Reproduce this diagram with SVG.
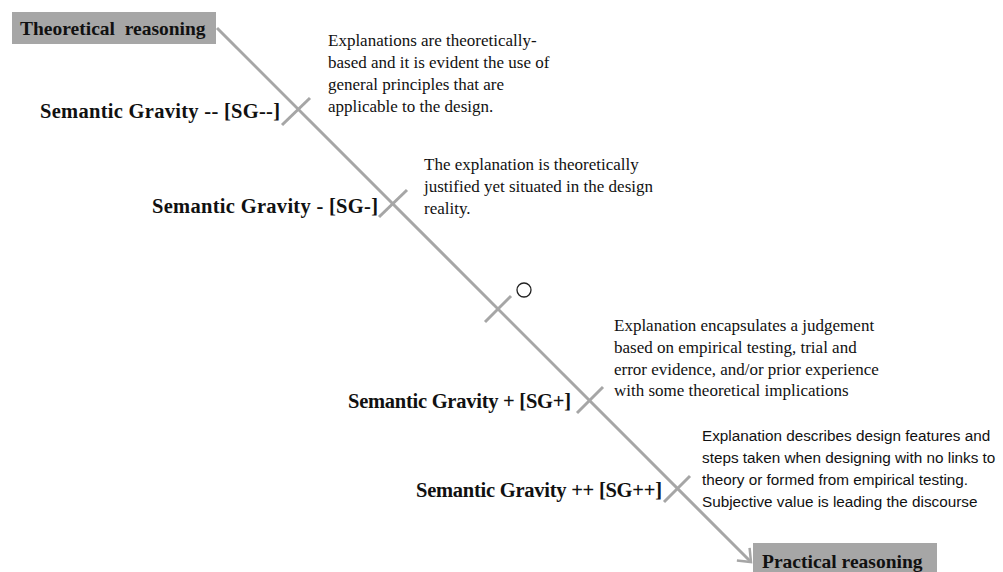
<svg xmlns="http://www.w3.org/2000/svg" width="1003" height="572" viewBox="0 0 1003 572">
<style>
.box{fill:#a6a6a6}
.ttl{font-family:"Liberation Serif",serif;font-weight:bold;font-size:19.5px;fill:#111}
.lbl{font-family:"Liberation Serif",serif;font-weight:bold;font-size:20.5px;fill:#111}
.desc{font-family:"Liberation Serif",serif;font-size:17px;fill:#111}
.desc2{font-family:"Liberation Sans",sans-serif;font-size:15.3px;fill:#111}
.ln{stroke:#a6a6a6;stroke-width:3;fill:none}
</style>
<defs>
<marker id="arr" markerWidth="16" markerHeight="20" refX="12" refY="10" orient="auto" markerUnits="userSpaceOnUse">
<path d="M1,1 L12,10 L1,19" fill="none" stroke="#a6a6a6" stroke-width="2.5"/>
</marker>
</defs>
<g id="theoretical">
<rect class="box" x="12" y="12" width="204" height="32"/>
<text class="ttl" x="20" y="35" xml:space="preserve">Theoretical  reasoning</text>
</g>
<g id="practical">
<rect class="box" x="753" y="543" width="184" height="32"/>
<text class="ttl" x="762" y="568">Practical reasoning</text>
</g>
<g id="connectors">
<line class="ln" x1="217" y1="28" x2="751" y2="562" marker-end="url(#arr)"/>
<line class="ln" x1="282" y1="125" x2="310" y2="98"/>
<line class="ln" x1="379" y1="217" x2="407" y2="190"/>
<line class="ln" x1="485" y1="322" x2="511" y2="296"/>
<line class="ln" x1="577" y1="413" x2="603" y2="387"/>
<line class="ln" x1="664" y1="502" x2="690" y2="476"/>
</g>
<g id="sg-minus-minus">
<text class="lbl" x="40" y="118" textLength="240" lengthAdjust="spacing">Semantic Gravity -- [SG--]</text>
<text class="desc" x="328" y="46">Explanations are theoretically-</text>
<text class="desc" x="328" y="68">based and it is evident the use of</text>
<text class="desc" x="328" y="90">general principles that are</text>
<text class="desc" x="328" y="112">applicable to the design.</text>
</g>
<g id="sg-minus">
<text class="lbl" x="152" y="213" textLength="226" lengthAdjust="spacing">Semantic Gravity - [SG-]</text>
<text class="desc" x="424" y="170">The explanation is theoretically</text>
<text class="desc" x="424" y="192">justified yet situated in the design</text>
<text class="desc" x="424" y="214">reality.</text>
</g>
<g id="neutral">
<circle cx="524" cy="290" r="7" fill="none" stroke="#222" stroke-width="1.3"/>
</g>
<g id="sg-plus">
<text class="lbl" x="348" y="408" textLength="223" lengthAdjust="spacing">Semantic Gravity + [SG+]</text>
<text class="desc" x="614" y="331">Explanation encapsulates a judgement</text>
<text class="desc" x="614" y="353">based on empirical testing, trial and</text>
<text class="desc" x="614" y="375">error evidence, and/or prior experience</text>
<text class="desc" x="614" y="396">with some theoretical implications</text>
</g>
<g id="sg-plus-plus">
<text class="lbl" x="416" y="497" textLength="246" lengthAdjust="spacing">Semantic Gravity ++ [SG++]</text>
<text class="desc2" x="702" y="441">Explanation describes design features and</text>
<text class="desc2" x="702" y="463">steps taken when designing with no links to</text>
<text class="desc2" x="702" y="485">theory or formed from empirical testing.</text>
<text class="desc2" x="702" y="507">Subjective value is leading the discourse</text>
</g>
</svg>
